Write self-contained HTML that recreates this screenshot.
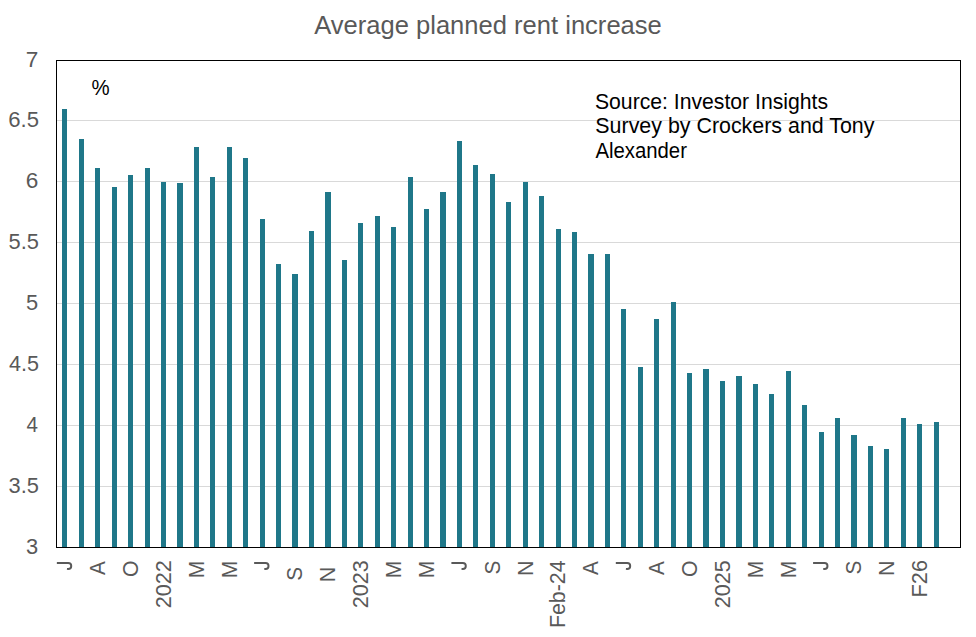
<!DOCTYPE html>
<html><head><meta charset="utf-8"><title>Average planned rent increase</title>
<style>html,body{margin:0;padding:0;background:#fff;}body{width:976px;height:637px;overflow:hidden;}svg{display:block;}text{font-family:"Liberation Sans",sans-serif;}</style></head><body>
<svg width="976" height="637" viewBox="0 0 976 637">
<rect x="0" y="0" width="976" height="637" fill="#ffffff"/>
<g fill="#d9d9d9" shape-rendering="crispEdges">
<rect x="57" y="120" width="903" height="1"/>
<rect x="57" y="181" width="903" height="1"/>
<rect x="57" y="242" width="903" height="1"/>
<rect x="57" y="303" width="903" height="1"/>
<rect x="57" y="364" width="903" height="1"/>
<rect x="57" y="425" width="903" height="1"/>
<rect x="57" y="486" width="903" height="1"/>
</g>
<g fill="#1f7789" shape-rendering="crispEdges">
<rect x="62" y="109" width="5" height="438"/>
<rect x="79" y="139" width="5" height="408"/>
<rect x="95" y="168" width="5" height="379"/>
<rect x="112" y="187" width="5" height="360"/>
<rect x="128" y="175" width="5" height="372"/>
<rect x="145" y="168" width="5" height="379"/>
<rect x="161" y="182" width="5" height="365"/>
<rect x="177" y="183" width="6" height="364"/>
<rect x="194" y="147" width="5" height="400"/>
<rect x="210" y="177" width="5" height="370"/>
<rect x="227" y="147" width="5" height="400"/>
<rect x="243" y="158" width="5" height="389"/>
<rect x="260" y="219" width="5" height="328"/>
<rect x="276" y="264" width="5" height="283"/>
<rect x="292" y="274" width="6" height="273"/>
<rect x="309" y="231" width="5" height="316"/>
<rect x="325" y="192" width="6" height="355"/>
<rect x="342" y="260" width="5" height="287"/>
<rect x="358" y="223" width="5" height="324"/>
<rect x="375" y="216" width="5" height="331"/>
<rect x="391" y="227" width="5" height="320"/>
<rect x="408" y="177" width="5" height="370"/>
<rect x="424" y="209" width="5" height="338"/>
<rect x="440" y="192" width="6" height="355"/>
<rect x="457" y="141" width="5" height="406"/>
<rect x="473" y="165" width="5" height="382"/>
<rect x="490" y="174" width="5" height="373"/>
<rect x="506" y="202" width="5" height="345"/>
<rect x="523" y="182" width="5" height="365"/>
<rect x="539" y="196" width="5" height="351"/>
<rect x="556" y="229" width="5" height="318"/>
<rect x="572" y="232" width="5" height="315"/>
<rect x="588" y="254" width="6" height="293"/>
<rect x="605" y="254" width="5" height="293"/>
<rect x="621" y="309" width="5" height="238"/>
<rect x="638" y="367" width="5" height="180"/>
<rect x="654" y="319" width="5" height="228"/>
<rect x="671" y="302" width="5" height="245"/>
<rect x="687" y="373" width="5" height="174"/>
<rect x="703" y="369" width="6" height="178"/>
<rect x="720" y="381" width="5" height="166"/>
<rect x="736" y="376" width="6" height="171"/>
<rect x="753" y="384" width="5" height="163"/>
<rect x="769" y="394" width="5" height="153"/>
<rect x="786" y="371" width="5" height="176"/>
<rect x="802" y="405" width="5" height="142"/>
<rect x="819" y="432" width="5" height="115"/>
<rect x="835" y="418" width="5" height="129"/>
<rect x="851" y="435" width="6" height="112"/>
<rect x="868" y="446" width="5" height="101"/>
<rect x="884" y="449" width="5" height="98"/>
<rect x="901" y="418" width="5" height="129"/>
<rect x="917" y="424" width="5" height="123"/>
<rect x="934" y="422" width="5" height="125"/>
</g>
<g fill="#000" shape-rendering="crispEdges">
<rect x="56" y="60" width="905" height="1"/>
<rect x="56" y="547" width="905" height="1"/>
<rect x="56" y="60" width="1" height="488"/>
<rect x="960" y="60" width="1" height="488"/>
</g>
<text transform="translate(314.20,34) scale(1.0068,1)" font-size="25.4" fill="#595959">Average planned rent increase</text>
<g font-size="21.5" fill="#595959">
<text transform="translate(25.74,67.00) scale(1.0518,1)">7</text>
<text transform="translate(8.26,127.00) scale(1.0282,1)">6.5</text>
<text transform="translate(25.74,188.00) scale(1.0518,1)">6</text>
<text transform="translate(8.62,249.00) scale(1.0161,1)">5.5</text>
<text transform="translate(26.12,310.00) scale(1.0179,1)">5</text>
<text transform="translate(8.96,371.00) scale(1.0042,1)">4.5</text>
<text transform="translate(26.48,432.00) scale(0.9562,1)">4</text>
<text transform="translate(8.62,493.00) scale(1.0161,1)">3.5</text>
<text transform="translate(26.12,554.00) scale(1.0179,1)">3</text>
</g>
<g font-size="22.0" fill="#595959">
<path d="M56.85,563 H68.25 A3,3 0 0 1 68.25,569 L66.95,568.85" fill="none" stroke="#595959" stroke-width="1.95"/>
<text transform="translate(105.13,575.10) rotate(-90) scale(0.9404,1)">A</text>
<text transform="translate(138.01,576.89) rotate(-90) scale(0.9587,1)">O</text>
<text transform="translate(170.89,608.21) rotate(-90) scale(0.9805,1)">2022</text>
<text transform="translate(203.77,578.14) rotate(-90) scale(0.9521,1)">M</text>
<text transform="translate(236.65,578.14) rotate(-90) scale(0.9521,1)">M</text>
<path d="M254.13,563 H265.53 A3,3 0 0 1 265.53,569 L264.23,568.85" fill="none" stroke="#595959" stroke-width="1.95"/>
<text transform="translate(302.41,580.75) rotate(-90) scale(0.9416,1)">S</text>
<text transform="translate(335.29,582.28) rotate(-90) scale(0.9778,1)">N</text>
<text transform="translate(368.17,608.21) rotate(-90) scale(0.9805,1)">2023</text>
<text transform="translate(401.05,578.14) rotate(-90) scale(0.9521,1)">M</text>
<text transform="translate(433.93,578.14) rotate(-90) scale(0.9521,1)">M</text>
<path d="M451.41,563 H462.81 A3,3 0 0 1 462.81,569 L461.51,568.85" fill="none" stroke="#595959" stroke-width="1.95"/>
<text transform="translate(499.69,574.45) rotate(-90) scale(0.9416,1)">S</text>
<text transform="translate(532.57,575.98) rotate(-90) scale(0.9778,1)">N</text>
<text transform="translate(565.45,628.07) rotate(-90) scale(0.9698,1)">Feb-24</text>
<text transform="translate(598.33,575.10) rotate(-90) scale(0.9404,1)">A</text>
<path d="M615.81,563 H627.21 A3,3 0 0 1 627.21,569 L625.91,568.85" fill="none" stroke="#595959" stroke-width="1.95"/>
<text transform="translate(664.09,575.10) rotate(-90) scale(0.9404,1)">A</text>
<text transform="translate(696.97,576.89) rotate(-90) scale(0.9587,1)">O</text>
<text transform="translate(729.85,608.21) rotate(-90) scale(0.9805,1)">2025</text>
<text transform="translate(762.73,578.14) rotate(-90) scale(0.9521,1)">M</text>
<text transform="translate(795.61,578.14) rotate(-90) scale(0.9521,1)">M</text>
<path d="M813.09,563 H824.49 A3,3 0 0 1 824.49,569 L823.19,568.85" fill="none" stroke="#595959" stroke-width="1.95"/>
<text transform="translate(861.37,574.45) rotate(-90) scale(0.9416,1)">S</text>
<text transform="translate(894.25,575.98) rotate(-90) scale(0.9778,1)">N</text>
<text transform="translate(927.13,597.39) rotate(-90) scale(0.9859,1)">F26</text>
</g>
<g font-size="21.3" fill="#000">
<text transform="translate(91.46,95) scale(0.9581,1)">%</text>
<text transform="translate(594.94,109.00) scale(0.9949,1)">Source: Investor Insights</text>
<text transform="translate(595.33,133.00) scale(1.0053,1)">Survey by Crockers and Tony</text>
<text transform="translate(595.50,158.00) scale(0.9540,1)">Alexander</text>
</g>
</svg></body></html>
